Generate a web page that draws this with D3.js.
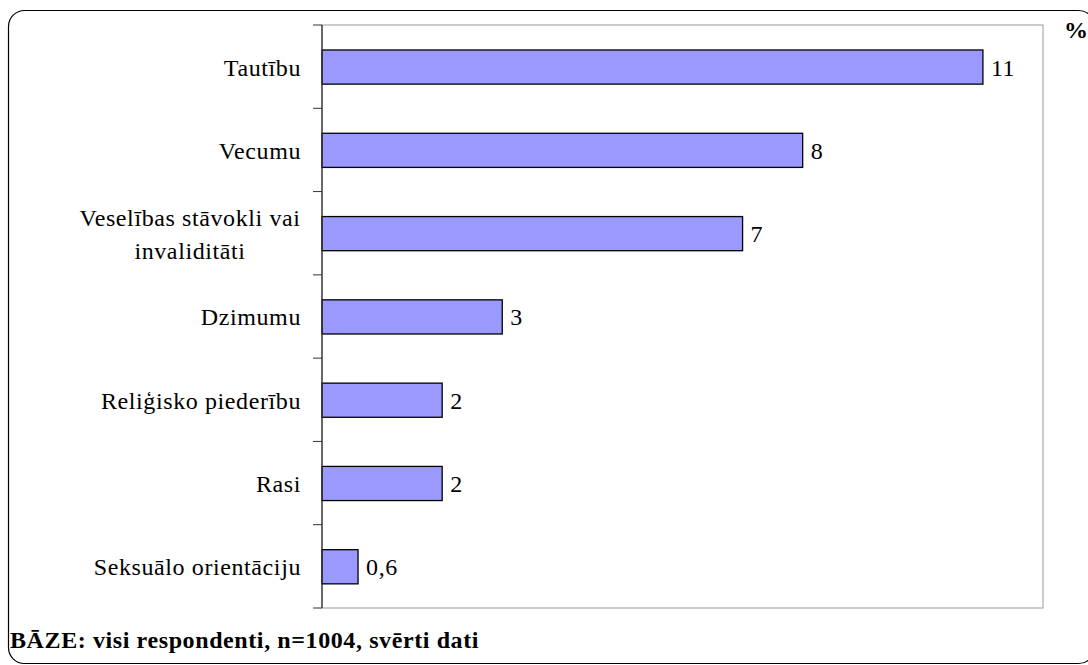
<!DOCTYPE html>
<html>
<head>
<meta charset="utf-8">
<script src="https://cdn.jsdelivr.net/npm/d3@7"></script>
<style>
  body { margin: 0; background: #fff; }
  svg { display: block; }
  svg text { font-family: "Liberation Serif", "Times New Roman", "DejaVu Serif", serif; letter-spacing: 0.6px; }
</style>
</head>
<body>
<div id="chart"></div>
<script>
const categories = ["Tautību", "Vecumu", "Veselības stāvokli vai invaliditāti", "Dzimumu", "Reliģisko piederību", "Rasi", "Seksuālo orientāciju"];
const values = [11, 8, 7, 3, 2, 2, 0.6];
const valueLabels = ["11", "8", "7", "3", "2", "2", "0,6"];
// wrapped category labels
const labelLines = [["Tautību"], ["Vecumu"], ["Veselības stāvokli vai", "invaliditāti"], ["Dzimumu"], ["Reliģisko piederību"], ["Rasi"], ["Seksuālo orientāciju"]];

const W = 1088, H = 665;
const margin = {left: 322, right: 45, top: 25, bottom: 57};
const fontSize = "24px";

const svg = d3.select("#chart").append("svg")
  .attr("width", W).attr("height", H);

// outer rounded frame
svg.append("rect")
  .attr("x", 8.5).attr("y", 10.5)
  .attr("width", 1086).attr("height", 653)
  .attr("rx", 16).attr("ry", 16)
  .attr("fill", "none").attr("stroke", "#000").attr("stroke-width", 1.2);

const x = d3.scaleLinear().domain([0, 12]).range([margin.left, W - margin.right]);
const y = d3.scaleBand().domain(categories).range([margin.top, H - margin.bottom]);

// plot area border (gray)
svg.append("rect")
  .attr("x", margin.left).attr("y", margin.top)
  .attr("width", x(12) - margin.left).attr("height", H - margin.bottom - margin.top)
  .attr("fill", "none").attr("stroke", "#999").attr("stroke-width", 1);

// bars
svg.selectAll("rect.bar").data(categories).enter().append("rect")
  .attr("class", "bar")
  .attr("x", x(0))
  .attr("y", d => y(d) + y.bandwidth() * 0.3)
  .attr("width", (d, i) => x(values[i]) - x(0))
  .attr("height", y.bandwidth() * 0.41)
  .attr("fill", "#9999FF")
  .attr("stroke", "#000").attr("stroke-width", 1.3);

// value labels
svg.selectAll("text.val").data(categories).enter().append("text")
  .attr("class", "val")
  .attr("x", (d, i) => x(values[i]) + 8)
  .attr("y", d => y(d) + y.bandwidth() / 2)
  .attr("dy", "0.37em")
  .style("font-size", fontSize)
  .text((d, i) => valueLabels[i]);

// axis: left line with ticks between categories
const axisX = margin.left;
svg.append("line")
  .attr("x1", axisX).attr("x2", axisX)
  .attr("y1", margin.top).attr("y2", H - margin.bottom)
  .attr("stroke", "#333").attr("stroke-width", 1.3);
const tickYs = categories.map(c => y(c)).concat([y.range()[1]]);
svg.selectAll("line.tick").data(tickYs).enter().append("line")
  .attr("class", "tick")
  .attr("x1", axisX - 9).attr("x2", axisX)
  .attr("y1", d => d).attr("y2", d => d)
  .attr("stroke", "#333").attr("stroke-width", 1);

// category labels
const lab = svg.selectAll("text.cat").data(categories).enter().append("text")
  .attr("class", "cat")
  .style("font-size", fontSize);
lab.each(function(d, i) {
  const lines = labelLines[i];
  const t = d3.select(this);
  lines.forEach((ln, j) => {
    t.append("tspan")
      .attr("x", lines.length > 1 ? 190 : 301)
      .attr("text-anchor", lines.length > 1 ? "middle" : "end")
      .attr("y", y(d) + y.bandwidth() / 2 + (j - (lines.length - 1) / 2) * 33)
      .attr("dy", "0.37em")
      .text(ln);
  });
});

// unit
svg.append("text")
  .attr("x", 1064).attr("y", 38)
  .style("font-size", fontSize).style("font-weight", "bold")
  .text("%");

// footer
svg.append("text")
  .attr("x", 10).attr("y", 648)
  .style("font-size", "24px").style("font-weight", "bold")
  .text("BĀZE: visi respondenti, n=1004, svērti dati");
</script>
</body>
</html>
